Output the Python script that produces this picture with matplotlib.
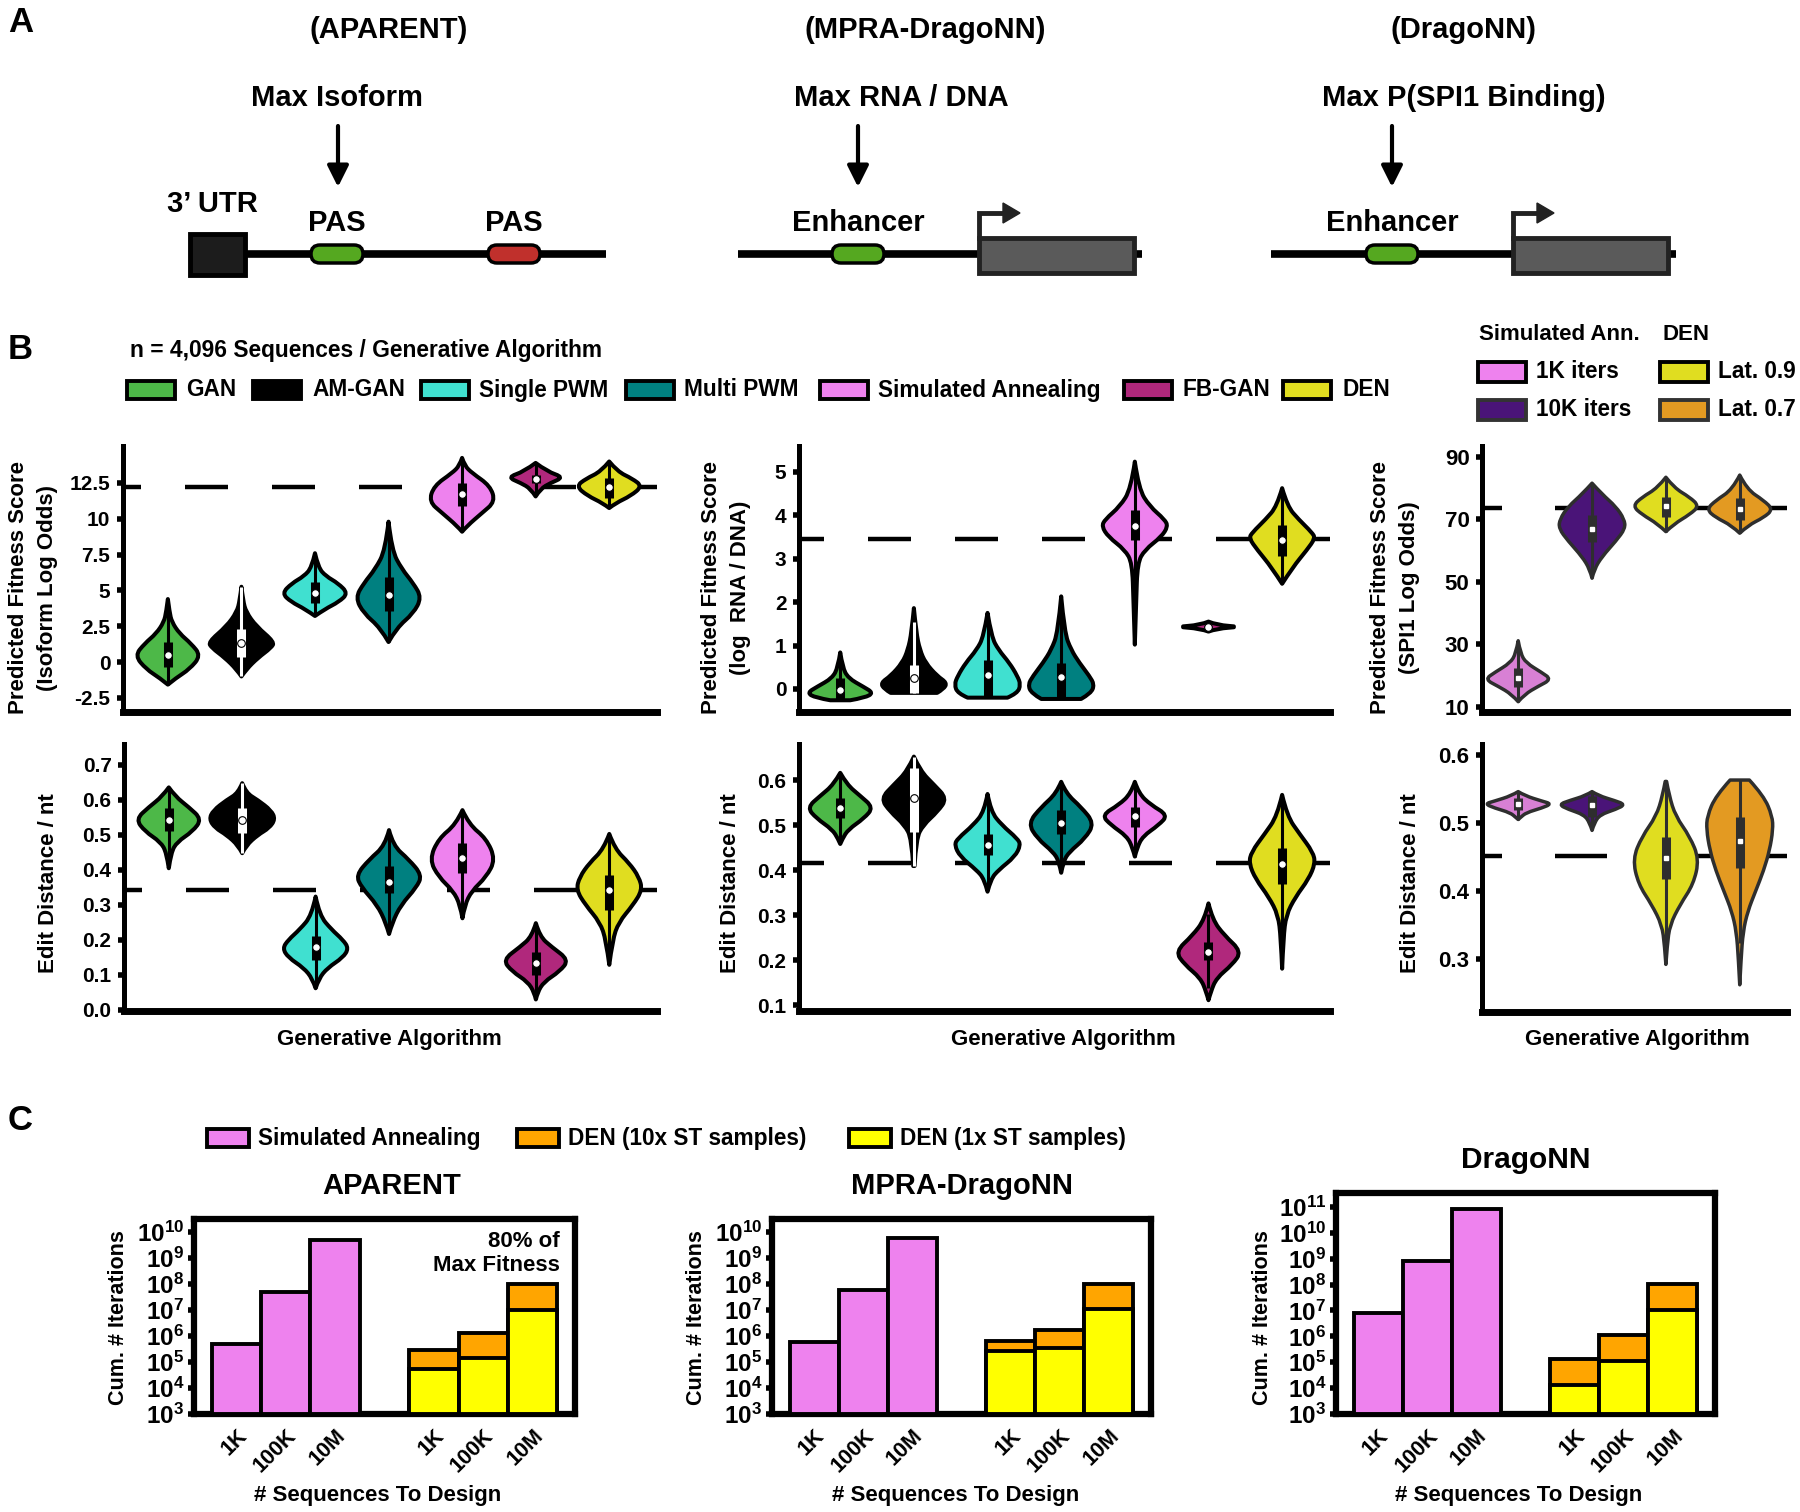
import numpy as np
import matplotlib
matplotlib.use("Agg")
import matplotlib.pyplot as plt
from matplotlib.path import Path
from matplotlib.patches import PathPatch, Rectangle, FancyBboxPatch, Polygon
from matplotlib.ticker import FuncFormatter, FixedLocator

plt.rcParams['font.family'] = ['Liberation Sans', 'DejaVu Sans']
plt.rcParams['font.weight'] = 'bold'
plt.rcParams['mathtext.fontset'] = 'custom'
plt.rcParams['mathtext.bf'] = 'Liberation Sans:bold'
plt.rcParams['mathtext.rm'] = 'Liberation Sans:bold'
plt.rcParams['lines.scale_dashes'] = False

# ---------------- data ----------------
methods = ['GAN', 'AM-GAN', 'Single PWM', 'Multi PWM', 'Simulated Annealing', 'FB-GAN', 'DEN']
method_colors = ['#4DB848', '#000000', '#40E0D0', '#008080', '#EE82EE', '#B0287C', '#E0DD20']
drago_methods = ['1K iters', '10K iters', 'Lat. 0.9', 'Lat. 0.7']
drago_colors = ['#D880D4', '#4A1478', '#E0DD20', '#E39A22']
drago_legend_colors = ['#EE82EE', '#4A1478', '#E0DD20', '#E39A22']

# reference (dashed) levels
ref_fit = [12.2, 3.45, 73.7]
ref_edit = [0.343, 0.415, 0.452]

# APARENT fitness: violin profile (y, relative density) and box stats
apa_fit_y = [[-1.57, -1.1, -0.5, 0.45, 1.3, 2.0, 2.8, 3.5, 4.4],
             [-1.0, -0.5, 0.3, 1.0, 1.4, 2.5, 3.5, 4.3, 5.26],
             [3.22, 3.7, 4.2, 4.8, 5.5, 6.0, 6.6, 7.6],
             [1.4, 2.4, 3.4, 4.5, 5.5, 6.5, 7.8, 9.8],
             [9.1, 9.5, 10.4, 11.2, 12.3, 13.2, 13.7, 14.25],
             [11.56, 12.1, 12.5, 12.9, 13.3, 13.9],
             [10.75, 11.1, 11.6, 12.27, 12.8, 13.3, 14.0]]
apa_fit_d = [[0, 0.25, 0.65, 1.0, 0.7, 0.35, 0.12, 0.05, 0],
             [0, 0.15, 0.5, 0.9, 1.0, 0.45, 0.14, 0.05, 0],
             [0, 0.3, 0.72, 1.0, 0.7, 0.33, 0.1, 0],
             [0, 0.25, 0.75, 1.0, 0.75, 0.4, 0.1, 0],
             [0, 0.15, 0.6, 1.0, 0.85, 0.3, 0.08, 0],
             [0, 0.15, 0.45, 0.85, 0.35, 0],
             [0, 0.2, 0.65, 1.0, 0.7, 0.25, 0]]
apa_fit_q1 = [-0.35, 0.35, 4.1, 3.6, 10.86, 12.5, 11.45]
apa_fit_med = [0.5, 1.33, 4.8, 4.67, 11.75, 12.8, 12.2]
apa_fit_q3 = [1.4, 2.34, 5.6, 5.96, 12.5, 13.08, 12.85]

# MPRA-DragoNN fitness
mpra_fit_y = [[-0.26, -0.2, -0.09, 0.05, 0.25, 0.5, 0.84],
              [-0.09, 0.0, 0.14, 0.3, 0.6, 0.9, 1.3, 1.86],
              [-0.2, -0.1, 0.1, 0.3, 0.6, 0.9, 1.2, 1.75],
              [-0.23, -0.1, 0.1, 0.3, 0.6, 0.9, 1.3, 2.13],
              [1.02, 2.0, 2.9, 3.2, 3.5, 3.74, 3.9, 4.2, 4.6, 5.23],
              [1.32, 1.39, 1.43, 1.47, 1.55],
              [2.42, 2.8, 3.2, 3.47, 3.6, 3.9, 4.2, 4.62]]
mpra_fit_d = [[0.3, 0.75, 1.0, 0.7, 0.24, 0.07, 0],
              [0.7, 0.9, 1.0, 0.7, 0.35, 0.18, 0.07, 0],
              [0.6, 0.9, 1.0, 0.9, 0.66, 0.33, 0.12, 0],
              [0.6, 0.9, 1.0, 0.85, 0.55, 0.3, 0.1, 0],
              [0, 0.04, 0.08, 0.3, 0.8, 1.0, 0.9, 0.45, 0.12, 0],
              [0, 0.25, 1.0, 0.25, 0],
              [0, 0.32, 0.75, 1.0, 0.9, 0.5, 0.16, 0]]
mpra_fit_q1 = [-0.25, -0.09, -0.2, -0.2, 3.43, 1.41, 3.05]
mpra_fit_med = [-0.02, 0.25, 0.33, 0.28, 3.76, 1.43, 3.43]
mpra_fit_q3 = [0.25, 0.56, 0.67, 0.6, 4.12, 1.45, 3.77]

# DragoNN fitness
drago_fit_y = [[11.6, 14, 16.5, 18.75, 21, 24, 27, 31.1],
               [51.1, 54, 58, 63, 67, 70, 74, 78, 81.5],
               [66, 68.5, 71.5, 74.2, 77, 80, 83.4],
               [65.5, 68, 70.5, 73.1, 76, 79.5, 84.1]]
drago_fit_d = [[0, 0.2, 0.6, 1.0, 0.7, 0.24, 0.07, 0],
               [0, 0.07, 0.3, 0.72, 1.0, 0.97, 0.72, 0.3, 0],
               [0, 0.25, 0.72, 1.0, 0.72, 0.25, 0],
               [0, 0.25, 0.72, 1.0, 0.72, 0.22, 0]]
drago_fit_q1 = [16.4, 62.8, 70.8, 69.7]
drago_fit_med = [19.1, 66.7, 74.2, 73.1]
drago_fit_q3 = [22.3, 71.3, 77.2, 76.7]

# APARENT edit distance
apa_edit_y = [[0.405, 0.45, 0.48, 0.51, 0.545, 0.58, 0.61, 0.636],
              [0.448, 0.47, 0.5, 0.52, 0.545, 0.57, 0.6, 0.62, 0.648],
              [0.062, 0.09, 0.12, 0.15, 0.176, 0.2, 0.23, 0.27, 0.324],
              [0.217, 0.25, 0.3, 0.35, 0.385, 0.43, 0.47, 0.514],
              [0.262, 0.3, 0.34, 0.38, 0.43, 0.49, 0.53, 0.571],
              [0.03, 0.05, 0.08, 0.11, 0.143, 0.18, 0.21, 0.248],
              [0.129, 0.2, 0.25, 0.3, 0.343, 0.38, 0.42, 0.46, 0.503]]
apa_edit_d = [[0, 0.07, 0.25, 0.72, 1.0, 0.6, 0.2, 0],
              [0, 0.12, 0.47, 0.82, 1.0, 0.88, 0.47, 0.12, 0],
              [0, 0.1, 0.36, 0.83, 1.0, 0.83, 0.48, 0.12, 0],
              [0, 0.1, 0.36, 0.83, 1.0, 0.6, 0.12, 0],
              [0, 0.07, 0.28, 0.72, 1.0, 0.72, 0.2, 0],
              [0, 0.05, 0.24, 0.72, 1.0, 0.48, 0.12, 0],
              [0, 0.1, 0.28, 0.72, 1.0, 0.9, 0.6, 0.17, 0]]
apa_edit_q1 = [0.51, 0.505, 0.143, 0.333, 0.39, 0.1, 0.286]
apa_edit_med = [0.543, 0.543, 0.179, 0.367, 0.433, 0.133, 0.343]
apa_edit_q3 = [0.576, 0.576, 0.21, 0.41, 0.476, 0.167, 0.386]

# MPRA-DragoNN edit distance
mpra_edit_y = [[0.458, 0.47, 0.49, 0.515, 0.539, 0.565, 0.59, 0.616],
               [0.409, 0.47, 0.5, 0.53, 0.559, 0.59, 0.62, 0.652],
               [0.352, 0.38, 0.4, 0.43, 0.456, 0.47, 0.5, 0.53, 0.569],
               [0.394, 0.42, 0.44, 0.47, 0.504, 0.54, 0.57, 0.596],
               [0.43, 0.45, 0.475, 0.5, 0.522, 0.545, 0.57, 0.596],
               [0.111, 0.13, 0.16, 0.19, 0.219, 0.255, 0.29, 0.326],
               [0.181, 0.25, 0.3, 0.34, 0.38, 0.415, 0.44, 0.48, 0.52, 0.567]]
mpra_edit_d = [[0, 0.07, 0.24, 0.72, 1.0, 0.6, 0.2, 0],
               [0.02, 0.07, 0.28, 0.72, 1.0, 0.6, 0.2, 0],
               [0, 0.1, 0.33, 0.83, 1.0, 0.9, 0.43, 0.1, 0],
               [0, 0.07, 0.24, 0.72, 1.0, 0.6, 0.15, 0],
               [0, 0.07, 0.24, 0.72, 1.0, 0.48, 0.12, 0],
               [0, 0.07, 0.24, 0.72, 1.0, 0.48, 0.12, 0],
               [0, 0.04, 0.12, 0.4, 0.8, 1.0, 0.93, 0.53, 0.15, 0]]
mpra_edit_q1 = [0.515, 0.485, 0.433, 0.481, 0.496, 0.2, 0.37]
mpra_edit_med = [0.537, 0.559, 0.456, 0.504, 0.519, 0.219, 0.413]
mpra_edit_q3 = [0.559, 0.626, 0.481, 0.533, 0.541, 0.241, 0.448]

# DragoNN edit distance
drago_edit_y = [[0.505, 0.508, 0.515, 0.522, 0.528, 0.532, 0.54, 0.546],
                [0.489, 0.5, 0.512, 0.52, 0.527, 0.533, 0.54, 0.546],
                [0.292, 0.32, 0.35, 0.38, 0.41, 0.447, 0.48, 0.51, 0.54, 0.561],
                [0.262, 0.3, 0.34, 0.37, 0.4, 0.43, 0.46, 0.49, 0.51, 0.54, 0.563]]
drago_edit_d = [[0, 0.07, 0.24, 0.72, 1.0, 0.72, 0.2, 0],
                [0, 0.07, 0.24, 0.72, 1.0, 0.67, 0.2, 0],
                [0, 0.04, 0.12, 0.43, 0.83, 1.0, 0.72, 0.29, 0.1, 0.02],
                [0, 0.04, 0.1, 0.24, 0.48, 0.72, 0.9, 1.0, 0.98, 0.72, 0.29]]
drago_edit_q1 = [0.519, 0.509, 0.417, 0.434]
drago_edit_med = [0.528, 0.527, 0.449, 0.474]
drago_edit_q3 = [0.536, 0.539, 0.479, 0.508]

# Panel C: cumulative iterations
seq_labels = ['1K', '100K', '10M']
apa_sa = [4.8e5, 5.0e7, 5.2e9]
apa_den10 = [2.9e5, 1.35e6, 1.0e8]
apa_den1 = [5.4e4, 1.4e5, 1.0e7]
mpra_sa = [5.9e5, 6.0e7, 6.0e9]
mpra_den10 = [6.4e5, 1.7e6, 1.05e8]
mpra_den1 = [2.6e5, 3.5e5, 1.07e7]
drago_sa = [8.0e6, 8.0e8, 8.0e10]
drago_den10 = [1.3e5, 1.16e6, 1.07e8]
drago_den1 = [1.3e4, 1.16e5, 1.07e7]

# ---------------- figure ----------------
W, H = 1800, 1512
fig = plt.figure(figsize=(W / 100, H / 100), dpi=100)

ov = fig.add_axes([0, 0, 1, 1])
ov.set_xlim(0, W)
ov.set_ylim(H, 0)
ov.axis('off')


def px_axes(l, t, r, b):
    return fig.add_axes([l / W, 1 - b / H, (r - l) / W, (b - t) / H])


def txt(x, y, s, size=16, **kw):
    kw.setdefault('ha', 'center')
    kw.setdefault('va', 'center')
    ov.text(x, y, s, fontsize=size, fontweight='bold', **kw)


# ---- panel A ----
txt(8, 6, 'A', size=25, ha='left', va='top')
for cx, s1 in [(389, '(APARENT)'), (925, '(MPRA-DragoNN)'), (1463, '(DragoNN)')]:
    txt(cx, 30, s1, size=21)
for cx, s2 in [(337, 'Max Isoform'), (901, 'Max RNA / DNA'), (1464, 'Max P(SPI1 Binding)')]:
    txt(cx, 98, s2, size=21)

for ax_x in [338, 858, 1392]:
    ov.annotate('', xy=(ax_x, 187), xytext=(ax_x, 126),
                arrowprops=dict(arrowstyle='-|>', lw=3, color='black',
                                mutation_scale=32, shrinkA=0, shrinkB=0))


def pill(cx, cy, color):
    ov.add_patch(FancyBboxPatch((cx - 26, cy - 9), 52, 18,
                                boxstyle='round,pad=0,rounding_size=9',
                                fc=color, ec='black', lw=2.5, zorder=3))


# APARENT diagram
ov.plot([240, 606], [254, 254], color='black', lw=5.5, solid_capstyle='butt', zorder=1)
ov.add_patch(Rectangle((190, 234), 55, 41, fc='#1C1C1C', ec='black', lw=3.5, zorder=3))
pill(337, 254, '#55A820')
pill(514, 254, '#C0302C')
txt(212, 204, '3\u2019 UTR', size=21)
txt(337, 223, 'PAS', size=21)
txt(514, 223, 'PAS', size=21)

# enhancer diagrams
for l0, l1, ex, bx0, bx1 in [(738, 1142, 858, 979, 1134), (1271, 1676, 1392, 1513, 1668)]:
    ov.plot([l0, l1], [254, 254], color='black', lw=5.5, solid_capstyle='butt', zorder=1)
    pill(ex, 254, '#55A820')
    txt(ex, 223, 'Enhancer', size=21)
    ov.add_patch(Rectangle((bx0, 238), bx1 - bx0, 35, fc='#5A5A5A', ec='#222222', lw=3.5, zorder=3))
    ov.plot([bx0, bx0, bx0 + 26], [238, 213, 213], color='#222222', lw=3.5, zorder=3,
            solid_joinstyle='miter')
    ov.add_patch(Polygon([(bx0 + 24, 203), (bx0 + 41, 213), (bx0 + 24, 223)],
                         closed=True, fc='#222222', ec='#222222', zorder=3))

# ---- panel B legends ----
txt(8, 333, 'B', size=25, ha='left', va='top')
txt(130, 350, 'n = 4,096 Sequences / Generative Algorithm', size=16.4, ha='left')
leg_x = [(127, 186), (253, 312), (421, 479), (626, 684), (820, 878), (1124, 1182), (1283, 1343)]
for (px, tx), name, col in zip(leg_x, methods, method_colors):
    ov.add_patch(Rectangle((px, 381), 48, 18, fc=col, ec='black', lw=2.8, zorder=3))
    txt(tx, 390, name, size=16.3, ha='left')

txt(1479, 335, 'Simulated Ann.', size=16, ha='left')
txt(1662, 335, 'DEN', size=16, ha='left')
for (px, py), name, col, ec in zip([(1478, 372), (1478, 410), (1660, 372), (1660, 410)],
                                    drago_methods, drago_legend_colors,
                                    ['black', '#333333', 'black', '#333333']):
    ov.add_patch(Rectangle((px, py - 10), 48, 20, fc=col, ec=ec, lw=2.8, zorder=3))
    txt(px + 58, py, name, size=16.3, ha='left')


# ---- violin helpers ----
def violin_path(x0, ys, ds, hw):
    ys = np.asarray(ys, float)
    ds = np.asarray(ds, float) * hw
    right = np.column_stack([x0 + ds, ys])
    left = np.column_stack([x0 - ds, ys])[::-1]
    verts, codes = [], []
    for k, pts in enumerate([right, left]):
        n = len(pts)
        verts.append(pts[0])
        codes.append(Path.MOVETO if k == 0 else Path.LINETO)
        for i in range(1, n - 1):
            verts.append(pts[i])
            codes.append(Path.CURVE3)
            end = (pts[i] + pts[i + 1]) / 2 if i < n - 2 else pts[n - 1]
            verts.append(end)
            codes.append(Path.CURVE3)
    verts.append(right[0])
    codes.append(Path.CLOSEPOLY)
    return Path(verts, codes)


def violin_axes(ax, ys, ds, q1, med, q3, colors, ref, xlim, ylim, yticks, ylabels,
                dash, dash_off, drago=False):
    edge = '#2E2E2E' if drago else 'black'
    for i, (y, d, col) in enumerate(zip(ys, ds, colors)):
        ax.add_patch(PathPatch(violin_path(i, y, d, 0.45), fc=col, ec=edge,
                               lw=2.5 if drago else 2.9, zorder=3, joinstyle='round'))
        boxc = 'white' if col == '#000000' else edge
        iqr = q3[i] - q1[i]
        lo = max(min(y), q1[i] - 1.5 * iqr)
        hi = min(max(y), q3[i] + 1.5 * iqr)
        ax.plot([i, i], [lo, hi], color=boxc, lw=2.2, zorder=4, solid_capstyle='butt')
        ax.plot([i, i], [q1[i], q3[i]], color=boxc, lw=6.5, zorder=4, solid_capstyle='butt')
        if drago:
            ax.plot(i, med[i], 's', ms=2.6, mfc='white', mec='white', zorder=5)
        else:
            ax.plot(i, med[i], 'o', ms=5.5, mfc='white', mec='black', mew=0.8, zorder=5)
    ax.axhline(ref, color='black', lw=3.2, zorder=2, linestyle=(dash_off, dash))
    ax.set_xlim(*xlim)
    ax.set_ylim(*ylim)
    ax.set_xticks([])
    ax.set_yticks(yticks)
    ax.set_yticklabels(ylabels)
    for s in ['top', 'right']:
        ax.spines[s].set_visible(False)
    ax.spines['left'].set_linewidth(3.6)
    ax.spines['bottom'].set_linewidth(5)
    ax.tick_params(axis='y', length=4, width=4, pad=5, labelsize=16 if drago else 15)
    for lab in ax.get_yticklabels():
        lab.set_fontweight('bold')


def dash_pat(px_dash, px_gap):
    return (px_dash * 0.72, px_gap * 0.72)


apa_x = (-0.61, 6.65)
mpra_x = (-0.56, 6.65)
drago_x = (-0.49, 3.64)

a1 = px_axes(123, 446, 657, 712)
violin_axes(a1, apa_fit_y, apa_fit_d, apa_fit_q1, apa_fit_med, apa_fit_q3, method_colors,
            ref_fit[0], apa_x, (-3.48, 15.08), [-2.5, 0, 2.5, 5, 7.5, 10, 12.5],
            ['-2.5', '0', '2.5', '5', '7.5', '10', '12.5'], dash_pat(43, 44), 25 * 0.72)
a2 = px_axes(799, 446, 1330, 712)
violin_axes(a2, mpra_fit_y, mpra_fit_d, mpra_fit_q1, mpra_fit_med, mpra_fit_q3, method_colors,
            ref_fit[1], mpra_x, (-0.53, 5.59), [0, 1, 2, 3, 4, 5],
            ['0', '1', '2', '3', '4', '5'], dash_pat(43, 44), 18 * 0.72)
a3 = px_axes(1482, 446, 1787, 712)
violin_axes(a3, drago_fit_y, drago_fit_d, drago_fit_q1, drago_fit_med, drago_fit_q3, drago_colors,
            ref_fit[2], drago_x, (8.3, 93.4), [10, 30, 50, 70, 90],
            ['10', '30', '50', '70', '90'], dash_pat(52, 53), 32 * 0.72, drago=True)

b1 = px_axes(124, 744, 657, 1011)
violin_axes(b1, apa_edit_y, apa_edit_d, apa_edit_q1, apa_edit_med, apa_edit_q3, method_colors,
            ref_edit[0], apa_x, (-0.003, 0.76), [0, 0.1, 0.2, 0.3, 0.4, 0.5, 0.6, 0.7],
            ['0.0', '0.1', '0.2', '0.3', '0.4', '0.5', '0.6', '0.7'], dash_pat(43, 44), 25 * 0.72)
b2 = px_axes(799, 744, 1330, 1011)
violin_axes(b2, mpra_edit_y, mpra_edit_d, mpra_edit_q1, mpra_edit_med, mpra_edit_q3, method_colors,
            ref_edit[1], mpra_x, (0.087, 0.68), [0.1, 0.2, 0.3, 0.4, 0.5, 0.6],
            ['0.1', '0.2', '0.3', '0.4', '0.5', '0.6'], dash_pat(43, 44), 18 * 0.72)
b3 = px_axes(1482, 744, 1787, 1012)
violin_axes(b3, drago_edit_y, drago_edit_d, drago_edit_q1, drago_edit_med, drago_edit_q3, drago_colors,
            ref_edit[2], drago_x, (0.222, 0.616), [0.3, 0.4, 0.5, 0.6],
            ['0.3', '0.4', '0.5', '0.6'], dash_pat(52, 53), 32 * 0.72, drago=True)

# titles inside panels
txt(143, 460, 'APARENT', size=21, ha='left')
txt(818, 460, 'MPRA-DragoNN', size=21, ha='left')
txt(1497, 460, 'DragoNN', size=21.5, ha='left')

# axis labels
for cx, s in [(33, 'Predicted Fitness Score\n(Isoform Log Odds)'),
              (726, 'Predicted Fitness Score\n(log  RNA / DNA)'),
              (1395, 'Predicted Fitness Score\n(SPI1 Log Odds)')]:
    txt(cx, 588, s, size=16, rotation=90, linespacing=1.45)
for cx in [49, 731, 1411]:
    txt(cx, 883, 'Edit Distance / nt', size=16, rotation=90)
for cx in [389, 1063, 1637]:
    txt(cx, 1040, 'Generative Algorithm', size=16)

# ---- panel C ----
txt(8, 1104, 'C', size=25, ha='left', va='top')
for px, name, col in [(207, 'Simulated Annealing', '#EE82EE'),
                      (517, 'DEN (10x ST samples)', '#FFA500'),
                      (849, 'DEN (1x ST samples)', '#FFFF00')]:
    ov.add_patch(Rectangle((px, 1129), 42, 18, fc=col, ec='black', lw=2.8, zorder=3))
    txt(px + 51, 1138, name, size=16.3, ha='left')


def bar_axes(ax, sa, den10, den1, ytop):
    floor = 1e3
    sa_pos = [0, 1, 2]
    den_pos = [4, 5, 6]
    ax.bar(sa_pos, [v - floor for v in sa], bottom=floor, width=1.0, color='#EE82EE',
           edgecolor='black', lw=2.8, zorder=3)
    ax.bar(den_pos, [v - floor for v in den10], bottom=floor, width=1.0, color='#FFA500',
           edgecolor='black', lw=2.8, zorder=3)
    ax.bar(den_pos, [v - floor for v in den1], bottom=floor, width=1.0, color='#FFFF00',
           edgecolor='black', lw=2.8, zorder=4)
    ax.set_yscale('log')
    ax.set_ylim(floor, ytop)
    ax.set_xlim(-0.86, 6.86)
    ax.set_xticks(sa_pos + den_pos)
    ax.set_xticklabels(seq_labels + seq_labels, rotation=45, ha='right',
                       rotation_mode='anchor', fontsize=15.5, fontweight='bold')
    exps = list(range(3, int(np.floor(np.log10(ytop))) + 1))
    ax.yaxis.set_major_locator(FixedLocator([10.0 ** e for e in exps]))
    ax.yaxis.set_minor_locator(FixedLocator([]))
    ax.yaxis.set_major_formatter(FuncFormatter(
        lambda v, p: r'$\mathbf{10^{%d}}$' % int(round(np.log10(v)))))
    ax.tick_params(axis='y', length=4, width=4, pad=3, labelsize=17.5)
    ax.tick_params(axis='x', length=0, pad=8)
    for s in ax.spines.values():
        s.set_linewidth(4.5)


c1 = px_axes(194, 1219, 575, 1414)
bar_axes(c1, apa_sa, apa_den10, apa_den1, 10 ** 10.51)
c2 = px_axes(772, 1219, 1151, 1414)
bar_axes(c2, mpra_sa, mpra_den10, mpra_den1, 10 ** 10.51)
c3 = px_axes(1336, 1193, 1715, 1414)
bar_axes(c3, drago_sa, drago_den10, drago_den1, 10 ** 11.54)

c1.text(0.96, 0.94, '80% of\nMax Fitness', transform=c1.transAxes, ha='right', va='top',
        fontsize=16, fontweight='bold', linespacing=1.2, zorder=5)

txt(392, 1186, 'APARENT', size=21)
txt(962, 1186, 'MPRA-DragoNN', size=21)
txt(1526, 1160, 'DragoNN', size=21.5)
for cx in [119, 696, 1262]:
    txt(cx, 1318, 'Cum. # Iterations', size=15.5, rotation=90)
for cx in [378, 956, 1519]:
    txt(cx, 1495, '# Sequences To Design', size=16)

fig.savefig('out.png', dpi=100)
